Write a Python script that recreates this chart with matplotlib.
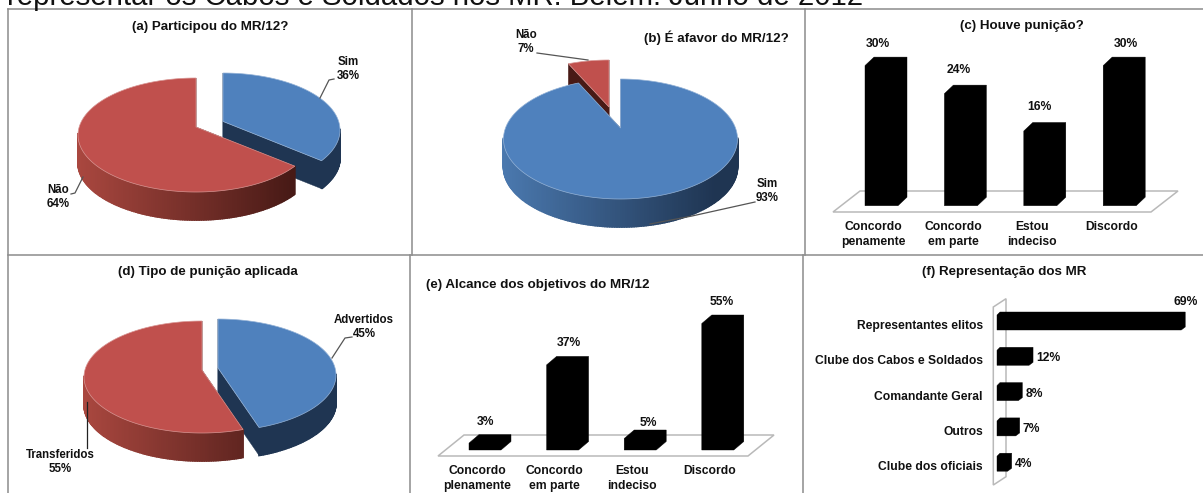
#!/usr/bin/env python3
"""Painel de graficos do MR/12 (pizzas e barras 3D desenhadas num eixo so, em pixels)."""
import numpy as np
import matplotlib
matplotlib.use("Agg")
import matplotlib.pyplot as plt

plt.rcParams["font.family"] = ["Liberation Sans", "DejaVu Sans"]

header = "representar os Cabos e Soldados nos MR. Belém. Junho de 2012"

part_vals = [36, 64]
favor_vals = [93, 7]
tipo_vals = [45, 55]

houve_cats = ["Concordo\npenamente", "Concordo\nem parte", "Estou\nindeciso", "Discordo"]
houve_vals = [30, 24, 16, 30]
alc_cats = ["Concordo\nplenamente", "Concordo\nem parte", "Estou\nindeciso", "Discordo"]
alc_vals = [3, 37, 5, 55]
rep_cats = ["Representantes elitos", "Clube dos Cabos e Soldados", "Comandante Geral", "Outros", "Clube dos oficiais"]
rep_vals = [69, 12, 8, 7, 4]

BLUE, RED = "#4f81bd", "#c0504d"
BLUE_L, BLUE_D = "#4a78ae", "#1f3552"
RED_L, RED_D = "#a9473f", "#481a16"
GRID = "#8c8c8c"
FLOOR = "#b9b9b9"
LEAD = "#555555"
TXT = "#111111"
FS = 8.7     # rotulos
FS_T = 9.6   # titulos
FS_P = 8.3   # rotulos das pizzas

fig = plt.figure(figsize=(12.03, 4.93), dpi=100)
ax = fig.add_axes([0, 0, 1, 1])
ax.set_xlim(0, 1203); ax.set_ylim(493, 0); ax.axis("off")


def rim(theta, cx, cy, rx, ry, a):
    # perspectiva: homografia do disco, o centro da pizza sobe a*ry
    u, v = np.sin(theta), np.cos(theta)
    d = 1 + a*v
    return cx + rx*u*np.sqrt(1 - a*a)/d, cy - ry*(v + a)/d, (v + a)/d


def mix(c1, c2, t):
    c1, c2 = np.array(matplotlib.colors.to_rgb(c1)), np.array(matplotlib.colors.to_rgb(c2))
    return tuple(c1 + (c2 - c1)*t)


def slice3d(start, pct, cx, cy, rx, ry, a, depth, col, light, dark, z):
    th = np.radians(np.linspace(start, start + pct*3.6, max(int(pct*3.6), 2) + 1))
    x, y, vp = rim(th, cx, cy, rx, ry, a)
    ax0, ay0 = cx, cy - ry*a
    for i in (0, -1):
        ax.fill([ax0, x[i], x[i], ax0], [ay0, y[i], y[i] + depth, ay0 + depth],
                color=dark, lw=0.3, zorder=z)
    for i in range(len(th) - 1):
        if vp[i] > 0.02 and vp[i+1] > 0.02:
            continue
        t = np.clip(((x[i] + x[i+1])/2 - (cx - rx))/(2*rx*0.9), 0, 1)
        c = mix(light, dark, t)
        ax.fill([x[i], x[i+1], x[i+1], x[i]], [y[i], y[i+1], y[i+1] + depth, y[i] + depth],
                facecolor=c, edgecolor=c, lw=1.2, zorder=z)
    ax.fill(np.r_[ax0, x], np.r_[ay0, y], facecolor=col, edgecolor=mix(col, "white", 0.4), lw=0.5, zorder=z + 0.5)


def bars_v(vals, cats, x0, step, w, base, k, dx, dy, floor, lab_x, lab_gap, cat_y, cat_shift):
    ax.fill(floor[0], floor[1], facecolor="white", edgecolor=FLOOR, lw=1.1, zorder=2)
    for i, (v, c) in enumerate(zip(vals, cats)):
        l = x0 + i*step
        top = base - v*k
        ax.fill([l, l, l + dx, l + w + dx, l + w + dx, l + w], [base, top, top + dy, top + dy, base + dy, base],
                color="black", lw=0.3, zorder=3)
        ax.text(lab_x[i], top + dy - lab_gap[i], f"{v}%", ha="center", va="center",
                fontsize=FS, fontweight="bold", color=TXT, zorder=5)
        ax.text(l + w/2 + cat_shift, cat_y, c, ha="center", va="top", fontsize=FS,
                fontweight="bold", color=TXT, linespacing=1.35, zorder=5)


# moldura
for xs, ys in [((8, 1203), (9, 9)), ((8, 1203), (255, 255)), ((8, 8), (9, 493)),
               ((412, 412), (9, 255)), ((805, 805), (9, 255)), ((410, 410), (255, 493)), ((803, 803), (255, 493))]:
    ax.plot(xs, ys, color=GRID, lw=1.1, zorder=1)

ax.text(7, 5, header, fontsize=21.2, color="#111111", ha="left", va="baseline", zorder=6)

# (a)
ax.text(210, 27, "(a) Participou do MR/12?", ha="center", va="center", fontsize=FS_T, fontweight="bold", color=TXT)
slice3d(0, part_vals[0], 223, 130, 117, 57, 0.15, 28, BLUE, BLUE_D, BLUE_D, 3)
slice3d(part_vals[0]*3.6, part_vals[1], 196, 135, 118, 57, 0.14, 28, RED, RED_L, RED_D, 4)
ax.plot([320, 329, 334], [98, 80, 79], color=LEAD, lw=0.9, zorder=5)
ax.plot([83, 75, 71], [177, 193, 194], color=LEAD, lw=0.9, zorder=5)
ax.text(348, 69, f"Sim\n{part_vals[0]}%", ha="center", va="center", fontsize=FS_P, fontweight="bold", color=TXT)
ax.text(58, 197, f"Não\n{part_vals[1]}%", ha="center", va="center", fontsize=FS_P, fontweight="bold", color=TXT)

# (b)
ax.text(716, 38, "(b) É afavor do MR/12?", ha="center", va="center", fontsize=FS_T, fontweight="bold", color=TXT)
slice3d(favor_vals[0]*3.6, favor_vals[1], 609, 120, 117, 60, 0.217, 28, RED, RED_D, RED_D, 3)
slice3d(0, favor_vals[0], 620.5, 139, 117, 60, 0.183, 28, BLUE, BLUE_L, BLUE_D, 4)
ax.plot([537, 588], [53, 60], color=LEAD, lw=0.9, zorder=5)
ax.plot([755, 692, 650], [202, 216, 224], color=LEAD, lw=0.9, zorder=5)
ax.text(526, 42, f"Não\n{favor_vals[1]}%", ha="center", va="center", fontsize=FS_P, fontweight="bold", color=TXT)
ax.text(767, 191, f"Sim\n{favor_vals[0]}%", ha="center", va="center", fontsize=FS_P, fontweight="bold", color=TXT)

# (c)
ax.text(1022, 26, "(c) Houve punição?", ha="center", va="center", fontsize=FS_T, fontweight="bold", color=TXT)
bars_v(houve_vals, houve_cats, 865, 79.4, 33, 205.7, 4.67, 9, -8.5,
       ([833, 1151, 1178, 860], [212, 212, 191, 191]),
       [878, 959, 1039, 1126], [13, 15, 15, 13], 221, -8)

# (d)
ax.text(208, 272, "(d) Tipo de punição aplicada", ha="center", va="center", fontsize=FS_T, fontweight="bold", color=TXT)
slice3d(0, tipo_vals[0], 218, 375, 118, 56, 0.125, 28, BLUE, BLUE_D, BLUE_D, 3)
slice3d(tipo_vals[0]*3.6, tipo_vals[1], 202, 377, 118, 56, 0.125, 28, RED, RED_L, RED_D, 4)
ax.plot([332, 345, 352], [358, 338, 337], color=LEAD, lw=0.9, zorder=5)
ax.plot([87, 87], [402, 448], color="#222222", lw=0.9, zorder=5)
ax.text(364, 327, f"Advertidos\n{tipo_vals[0]}%", ha="center", va="center", fontsize=FS_P, fontweight="bold", color=TXT)
ax.text(60, 462, f"Transferidos\n{tipo_vals[1]}%", ha="center", va="center", fontsize=FS_P, fontweight="bold", color=TXT)

# (e)
ax.text(426, 285, "(e) Alcance dos objetivos do MR/12", ha="left", va="center", fontsize=FS_T, fontweight="bold", color=TXT)
bars_v(alc_vals, alc_cats, 469, 77.6, 32, 450, 2.3, 10, -8.5,
       ([438, 748, 774, 464], [456, 456, 435, 435]),
       [486, 569, 648, 722], [13, 13, 7, 13], 464.5, -8)

# (f)
ax.text(1004, 272, "(f) Representação dos MR", ha="center", va="center", fontsize=FS_T, fontweight="bold", color=TXT)
ax.fill([993.3, 1006, 1006, 993.3], [307, 298.7, 476.7, 485], facecolor="white", edgecolor=FLOOR, lw=1.1, zorder=2)
rep_k, rep_step = 2.67, 35.3
for i, (v, c) in enumerate(zip(rep_vals, rep_cats)):
    bot = 330 + i*rep_step
    end = 997 + v*rep_k
    ax.fill([997, 997, 1000, end + 4, end + 4, end], [bot, bot - 15, bot - 18, bot - 18, bot - 3, bot],
            color="black", lw=0.3, zorder=3)
    ax.text(983, bot - 4, c, ha="right", va="center", fontsize=FS, fontweight="bold", color=TXT, zorder=5)
    if i == 0:
        ax.text(1198, bot - 28, f"{v}%", ha="right", va="center", fontsize=FS, fontweight="bold", color=TXT, zorder=5)
    else:
        ax.text(end + 7, bot - 7, f"{v}%", ha="left", va="center", fontsize=FS, fontweight="bold", color=TXT, zorder=5)

fig.savefig("out.png", dpi=100)
